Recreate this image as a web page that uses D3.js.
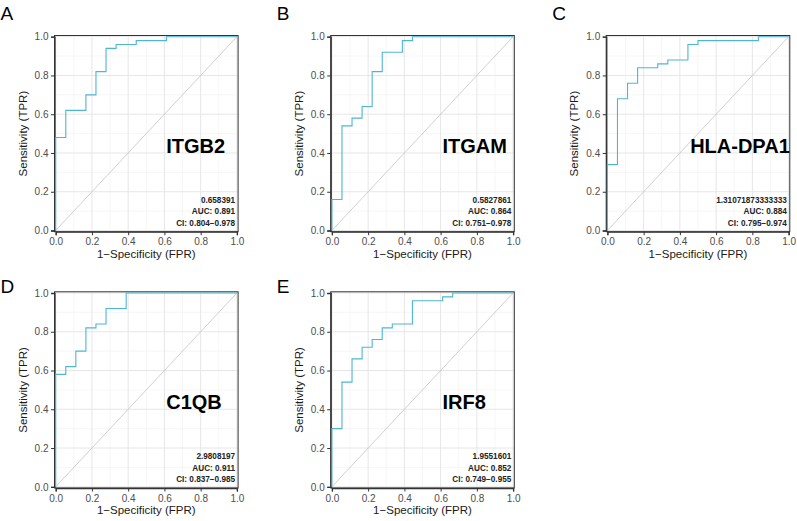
<!DOCTYPE html>
<html>
<head>
<meta charset="utf-8">
<script src="https://cdn.jsdelivr.net/npm/d3@7"></script>
<style>
  body { margin: 0; background: #fff; }
  text { font-family: "Liberation Sans", Arial, sans-serif; }
</style>
</head>
<body>
<svg id="chart"></svg>
<script>
const width = 797;
const height = 521;

// panel data
const letters = ["A", "B", "C", "D", "E"];
const genes = ["ITGB2", "ITGAM", "HLA-DPA1", "C1QB", "IRF8"];
const cutoffs = ["0.658391", "0.5827861", "1.31071873333333", "2.9808197", "1.9551601"];
const aucs = ["0.891", "0.864", "0.884", "0.911", "0.852"];
const cis = ["0.804\u22120.978", "0.751\u22120.978", "0.795\u22120.974", "0.837\u22120.985", "0.749\u22120.955"];

// ROC corner points (step after)
const fprA = [0, 0, 0.0556, 0.1667, 0.2222, 0.2778, 0.3333, 0.4444, 0.6111, 1];
const tprA = [0, 0.48, 0.62, 0.70, 0.82, 0.94, 0.96, 0.98, 1.0, 1.0];
const fprB = [0, 0, 0.0556, 0.1111, 0.1667, 0.2222, 0.2778, 0.3889, 0.4444, 1];
const tprB = [0, 0.16, 0.54, 0.58, 0.64, 0.82, 0.92, 0.98, 1.0, 1.0];
const fprC = [0, 0, 0.0556, 0.1111, 0.1667, 0.2778, 0.3333, 0.4444, 0.5, 0.8333, 1];
const tprC = [0, 0.34, 0.68, 0.76, 0.84, 0.86, 0.88, 0.96, 0.98, 1.0, 1.0];
const fprD = [0, 0, 0.0556, 0.1111, 0.1667, 0.2222, 0.2778, 0.3889, 1];
const tprD = [0, 0.58, 0.62, 0.70, 0.82, 0.84, 0.92, 1.0, 1.0];
const fprE = [0, 0, 0.0556, 0.1111, 0.1667, 0.2222, 0.2778, 0.3333, 0.4444, 0.6111, 0.6667, 1];
const tprE = [0, 0.30, 0.54, 0.66, 0.72, 0.76, 0.82, 0.84, 0.96, 0.98, 1.0, 1.0];

const fprs = [fprA, fprB, fprC, fprD, fprE];
const tprs = [tprA, tprB, tprC, tprD, tprE];

const majorTicks = [0, 0.2, 0.4, 0.6, 0.8, 1.0];
const minorTicks = [0.1, 0.3, 0.5, 0.7, 0.9];

// layout
const colX = [54.5, 330.7, 606.2];
const rowY = [35.5, 291.8];
const pw = 183.6;
const ph = 196.2;

const svg = d3.select("#chart")
    .attr("width", width)
    .attr("height", height);

// small inset so the curve sits just inside the frame
const x = d3.scaleLinear().domain([0, 1]).range([1.2, pw - 1.2]);
const y = d3.scaleLinear().domain([0, 1]).range([ph - 1.2, 1.2]);

const line = d3.line()
    .x((d) => x(d[0]))
    .y((d) => y(d[1]))
    .curve(d3.curveStepAfter);

genes.forEach(function(gene, i) {
    const px = colX[i % 3];
    const py = rowY[Math.floor(i / 3)];
    const g = svg.append("g").attr("transform", `translate(${px},${py})`);

    // grid
    g.selectAll(".minx").data(minorTicks).enter().append("line")
        .attr("x1", (d) => x(d)).attr("x2", (d) => x(d))
        .attr("y1", 0).attr("y2", ph)
        .attr("stroke", "#f0f0f0").attr("stroke-width", 0.6);
    g.selectAll(".miny").data(minorTicks).enter().append("line")
        .attr("y1", (d) => y(d)).attr("y2", (d) => y(d))
        .attr("x1", 0).attr("x2", pw)
        .attr("stroke", "#f0f0f0").attr("stroke-width", 0.6);
    g.selectAll(".majx").data(majorTicks).enter().append("line")
        .attr("x1", (d) => x(d)).attr("x2", (d) => x(d))
        .attr("y1", 0).attr("y2", ph)
        .attr("stroke", "#e6e6e6").attr("stroke-width", 1);
    g.selectAll(".majy").data(majorTicks).enter().append("line")
        .attr("y1", (d) => y(d)).attr("y2", (d) => y(d))
        .attr("x1", 0).attr("x2", pw)
        .attr("stroke", "#e6e6e6").attr("stroke-width", 1);

    // diagonal
    g.append("line")
        .attr("x1", x(0)).attr("y1", y(0))
        .attr("x2", x(1)).attr("y2", y(1))
        .attr("stroke", "#c4c4c4").attr("stroke-width", 0.8);

    // border
    g.append("rect")
        .attr("width", pw).attr("height", ph)
        .attr("fill", "none")
        .attr("stroke", "#333").attr("stroke-width", 1);

    // axes
    const xAxis = g.append("g")
        .attr("transform", `translate(0,${ph})`)
        .call(d3.axisBottom(x).tickValues(majorTicks).tickFormat(d3.format(".1f")).tickSize(3.5).tickPadding(3));
    const yAxis = g.append("g")
        .call(d3.axisLeft(y).tickValues(majorTicks).tickFormat(d3.format(".1f")).tickSize(3.5).tickPadding(2.5));
    [xAxis, yAxis].forEach(function(a) {
        a.select(".domain").attr("stroke", "#333").attr("stroke-width", 1.3);
        a.selectAll(".tick line").attr("stroke", "#333");
        a.selectAll(".tick text")
            .attr("fill", "#4d4d4d")
            .style("font-size", "10px")
            .style("font-family", "'Liberation Sans', Arial, sans-serif");
    });

    // ROC curve
    const pts = fprs[i].map((f, k) => [f, tprs[i][k]]);
    g.append("path")
        .attr("d", line(pts))
        .attr("fill", "none")
        .attr("stroke", "#4db6d3")
        .attr("stroke-width", 1.1);

    // axis titles
    g.append("text")
        .attr("x", pw / 2).attr("y", ph + 26)
        .attr("text-anchor", "middle")
        .style("font-size", "11.5px")
        .attr("fill", "#1a1a1a")
        .text("1\u2212Specificity (FPR)");
    g.append("text")
        .attr("transform", `translate(-28,${ph / 2}) rotate(-90)`)
        .attr("text-anchor", "middle")
        .style("font-size", "11.5px")
        .attr("fill", "#1a1a1a")
        .text("Sensitivity (TPR)");

    // gene label
    const lab = g.append("text")
        .attr("x", x(0.61)).attr("y", y(0.40))
        .style("font-size", "20px")
        .style("font-weight", "bold")
        .attr("fill", "#000")
        .text(gene);
    const lw = lab.node().getComputedTextLength();
    if (x(0.61) + lw > pw) {
        lab.attr("x", pw).attr("text-anchor", "end");
    }

    // stats
    const stats = [cutoffs[i], "AUC: " + aucs[i], "CI: " + cis[i]];
    g.selectAll(".stat").data(stats).enter().append("text")
        .attr("x", pw - 3)
        .attr("y", (d, k) => ph - 29 + k * 11.7)
        .attr("text-anchor", "end")
        .style("font-size", "8.2px")
        .style("font-weight", "bold")
        .attr("fill", "#222")
        .text((d) => d);

    // panel letter
    svg.append("text")
        .attr("x", px - 54)
        .attr("y", i < 3 ? 20 : 293.3)
        .style("font-size", "19px")
        .attr("fill", "#000")
        .text(letters[i]);
});
</script>
</body>
</html>
